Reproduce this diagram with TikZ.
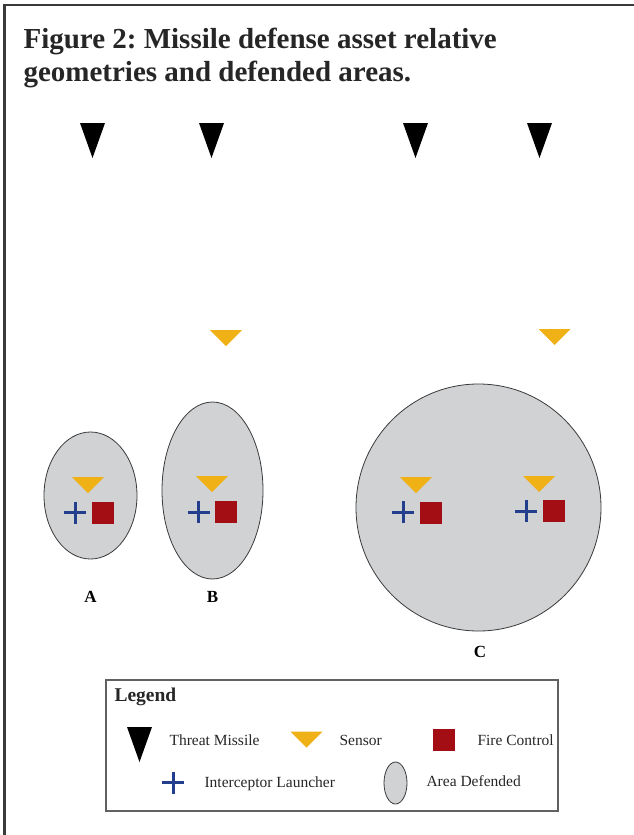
\documentclass[tikz,border=0pt]{standalone}
\usepackage{fontspec}
\setmainfont{Liberation Serif}
\frenchspacing
\definecolor{sensorY}{HTML}{EFB116}
\definecolor{fireR}{HTML}{A30D14}
\definecolor{launchB}{HTML}{243E8E}
\definecolor{areaG}{HTML}{D1D2D4}
\definecolor{edgeG}{HTML}{3A3A3A}
\tikzset{
  pics/missile/.style={code={\fill[black] (-12.5,-17.5) -- (12.5,-17.5) -- (0,17.5) -- cycle;}},
  pics/sensor/.style={code={\fill[sensorY] (-16,-8) -- (16,-8) -- (0,8) -- cycle;}},
  pics/launcher/.style={code={\draw[launchB,line width=3pt] (-11,0) -- (11,0) (0,-11) -- (0,11);}},
  pics/firectl/.style={code={\fill[fireR] (-11,-11) rectangle (11,11);}},
  area/.style={draw=edgeG,fill=areaG,line width=0.8pt},
  sitelabel/.style={font=\fontsize{17}{20}\selectfont\bfseries,anchor=base},
  legtext/.style={font=\fontsize{15.5}{18}\selectfont,anchor=base west,text=black!85},
  titletext/.style={anchor=base west,font=\fontsize{29}{33}\selectfont\bfseries,text=black!85},
}
\begin{document}
\begin{tikzpicture}[x=1pt,y=-1pt]
\useasboundingbox (0,0) rectangle (634,835);
% outer frame (open at right and bottom)
\draw[line width=2.2pt,edgeG] (634,5) -- (4.5,5) -- (4.5,835);

% title
\node[titletext] (t1) at (20,48) {Figure 2: Missile defense asset relative};
\node[titletext] (t2) at (20,81) {geometries and defended areas.};

% threat missiles
\pic at (92.5,140.5) {missile};
\pic at (211.5,140.5) {missile};
\pic at (415.5,140.5) {missile};
\pic at (539.5,140.5) {missile};

% forward sensors
\pic at (226,338) {sensor};
\pic at (554.5,337) {sensor};

% defended areas
\path[area] (90.5,495.5) ellipse [x radius=46.5,y radius=63.5];
\path[area] (212.5,490.5) ellipse [x radius=50.5,y radius=88.5];
\path[area] (478.5,507.5) ellipse [x radius=122.5,y radius=123.5];

% site A
\pic at (88,485) {sensor};
\pic at (75,512.5) {launcher};
\pic at (103,513) {firectl};
% site B
\pic at (212,484) {sensor};
\pic at (198.5,512) {launcher};
\pic at (226,512) {firectl};
% site C
\pic at (416,485) {sensor};
\pic at (403,512) {launcher};
\pic at (431,513) {firectl};
\pic at (539,484) {sensor};
\pic at (526,511) {launcher};
\pic at (554,511) {firectl};

\node[sitelabel] (la) at (90.5,602) {A};
\node[sitelabel] (lb) at (212.5,602) {B};
\node[sitelabel] (lc) at (480,657) {C};

% legend
\draw[line width=1.3pt,edgeG!80] (106,680) rectangle (558,811);
\node[anchor=base west,font=\fontsize{19.5}{22}\selectfont\bfseries,text=black!85] (lg) at (111,701) {Legend};
\pic at (139.5,744.5) {missile};
\node[legtext] (lt1) at (166,745) {Threat Missile};
\pic at (306.5,739.5) {sensor};
\node[legtext] (lt2) at (336,745) {Sensor};
\pic at (444,740) {firectl};
\node[legtext] (lt3) at (474,745) {Fire Control};
\pic at (173,782.5) {launcher};
\node[legtext] (lt4) at (201,787) {Interceptor Launcher};
\path[area] (395.5,783) ellipse [x radius=11.5,y radius=21];
\node[legtext] (lt5) at (423,786) {Area Defended};
\end{tikzpicture}
\end{document}
